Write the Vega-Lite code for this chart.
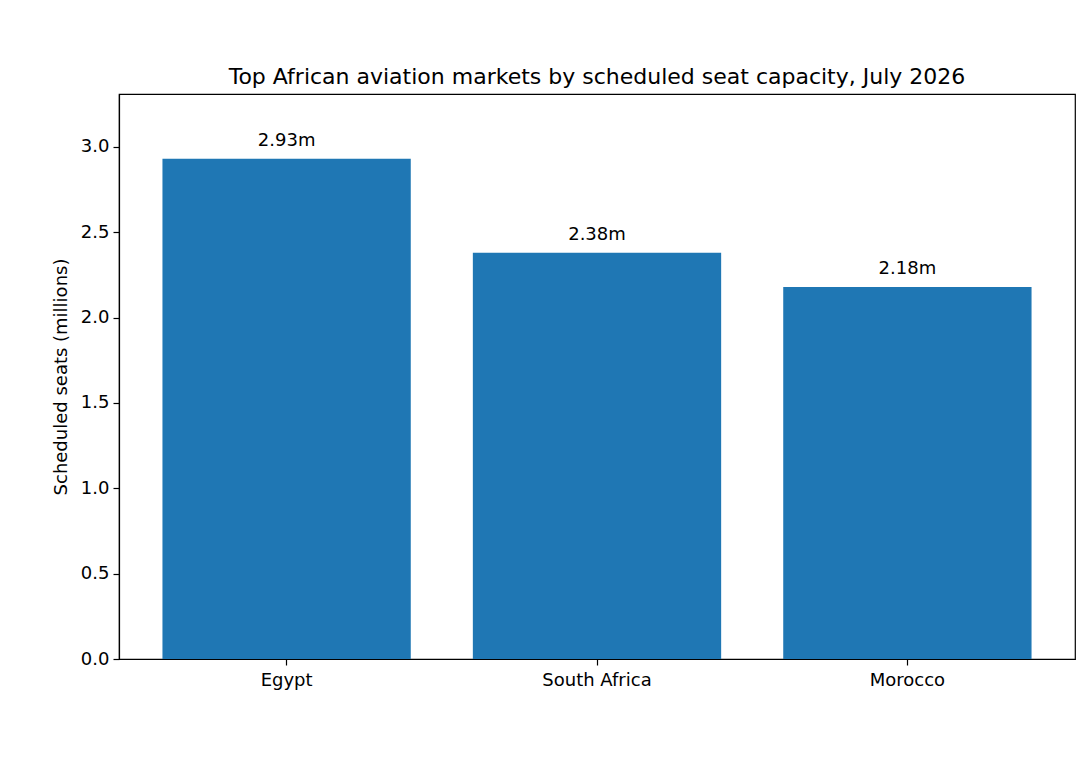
{
  "$schema": "https://vega.github.io/schema/vega-lite/v6.json",
  "autosize": {"type": "none"},
  "padding": {"left": 119, "top": 94, "right": 16, "bottom": 100},
  "width": 956,
  "height": 565,
  "background": "white",
  "title": {
    "text": "Top African aviation markets by scheduled seat capacity, July 2026",
    "font": "DejaVu Sans",
    "fontSize": 22,
    "fontWeight": "normal",
    "color": "black",
    "anchor": "middle",
    "baseline": "alphabetic",
    "offset": -12
  },
  "data": {
    "values": [
      {"country": "Egypt", "seats": 2.93, "label": "2.93m"},
      {"country": "South Africa", "seats": 2.38, "label": "2.38m"},
      {"country": "Morocco", "seats": 2.18, "label": "2.18m"}
    ]
  },
  "encoding": {
    "x": {
      "field": "country",
      "type": "nominal",
      "sort": null,
      "scale": {"paddingInner": 0.2, "paddingOuter": 0.14},
      "axis": {"title": null, "labelAngle": 0, "labelPadding": 6}
    },
    "y": {
      "field": "seats",
      "type": "quantitative",
      "scale": {"domain": [0, 3.31], "nice": false, "zero": true},
      "axis": {
        "title": "Scheduled seats (millions)",
        "values": [0, 0.5, 1, 1.5, 2, 2.5, 3],
        "format": ".1f"
      }
    }
  },
  "layer": [
    {"mark": {"type": "bar", "color": "#1f77b4"}},
    {
      "mark": {
        "type": "text",
        "baseline": "alphabetic",
        "dy": -13,
        "font": "DejaVu Sans",
        "fontSize": 18,
        "color": "black"
      },
      "encoding": {"text": {"field": "label"}}
    }
  ],
  "config": {
    "view": {"stroke": "black", "strokeWidth": 1.2},
    "axis": {
      "grid": false,
      "domainColor": "black",
      "domainWidth": 1.2,
      "tickColor": "black",
      "tickWidth": 1.2,
      "tickSize": 6,
      "labelFont": "DejaVu Sans",
      "labelFontSize": 18,
      "labelColor": "black",
      "labelPadding": 4,
      "titleFont": "DejaVu Sans",
      "titleFontSize": 18,
      "titleFontWeight": "normal",
      "titleColor": "black",
      "titlePadding": 10
    }
  }
}
